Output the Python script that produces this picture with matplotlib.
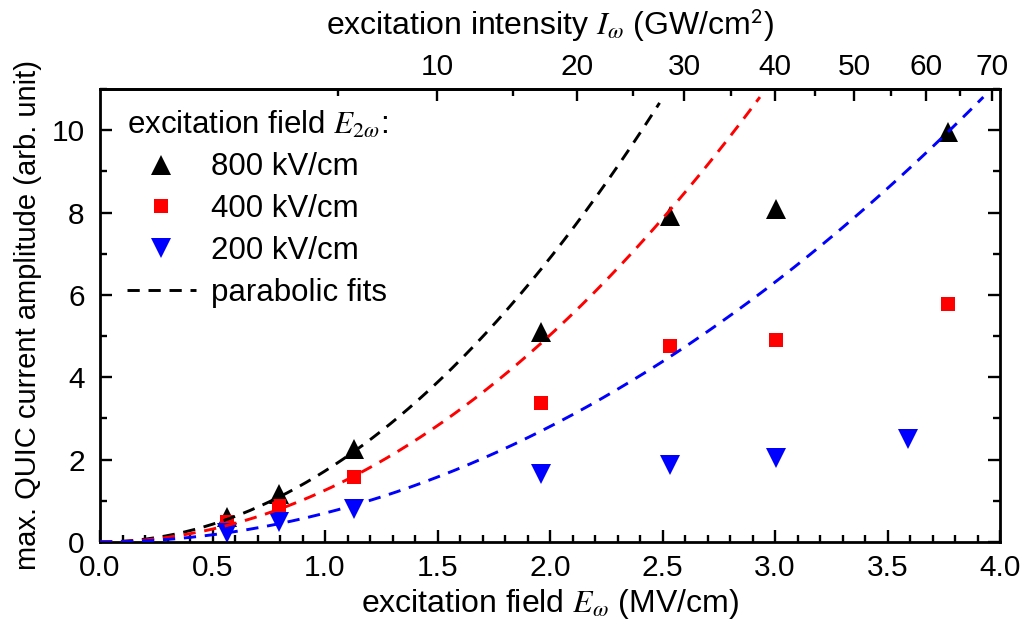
import numpy as np
import matplotlib
matplotlib.use("Agg")
import matplotlib.pyplot as plt
from matplotlib.lines import Line2D

plt.rcParams['font.family'] = ['Liberation Sans', 'DejaVu Sans']
plt.rcParams['mathtext.fontset'] = 'stix'

# ---- data ----
E_field = [0.565, 0.795, 1.129, 1.961, 2.535, 3.003, 3.767]
amp_800 = [0.61, 1.17, 2.27, 5.10, 7.92, 8.09, 9.95]
amp_400 = [0.49, 0.87, 1.58, 3.38, 4.77, 4.91, 5.77]
E_field_200 = [0.565, 0.795, 1.129, 1.961, 2.535, 3.003, 3.589]
amp_200 = [0.21, 0.49, 0.79, 1.64, 1.86, 2.04, 2.49]

series_labels = ['800 kV/cm', '400 kV/cm', '200 kV/cm']
series_colors = ['black', '#ff0000', '#0000ff']
series_markers = ['^', 's', 'v']

fit_coef = [1.724, 1.256, 0.701]      # parabolic fits a*E^2
fit_end = [2.487, 2.933, 3.926]       # end of plotted fit curves (MV/cm)

intensity_k = 4.45                    # I (GW/cm^2) = k * E^2 (MV/cm)
top_major = [10, 20, 30, 40, 50, 60, 70]
top_minor = [5, 15, 25, 35, 45, 55, 65]

# ---- figure ----
fig = plt.figure(figsize=(10.33, 6.24), dpi=100)
ax = fig.add_axes([100/1033, 1-542/624, 900/1033, 453/624])

xs = [E_field, E_field, E_field_200]
ys = [amp_800, amp_400, amp_200]
ms = [14, 10.3, 14]
for x, y, c, m, s in zip(xs, ys, series_colors, series_markers, ms):
    ax.plot(x, y, linestyle='none', marker=m, color=c, markersize=s,
            markeredgewidth=0, zorder=2)

for a, e_end, c in zip(fit_coef, fit_end, series_colors):
    ee = np.linspace(0, e_end, 300)
    ln, = ax.plot(ee, a*ee**2, color=c, lw=2.1, zorder=3)
    ln.set_dashes([4.2, 3.0])

ax.set_xlim(0, 4.0)
ax.set_ylim(0, 11)
ax.set_xticks(np.arange(0, 4.01, 0.5))
ax.set_xticks(np.arange(0, 4.01, 0.1), minor=True)
ax.set_yticks([0, 2, 4, 6, 8, 10])
ax.set_yticks(np.arange(0, 11.01, 1), minor=True)
ax.xaxis.set_major_formatter(matplotlib.ticker.FormatStrFormatter('%.1f'))

for sp in ax.spines.values():
    sp.set_linewidth(2.0)

ax.tick_params(which='both', direction='in', top=False, right=True,
               labelsize=21.5, width=1.7)
ax.tick_params(which='major', length=8.5)
ax.tick_params(axis='x', which='major', pad=9)
ax.tick_params(axis='y', which='major', pad=11)
ax.tick_params(which='minor', length=5)

ax.set_xlabel(r'excitation field $E_{\omega}$ (MV/cm)', fontsize=23, labelpad=3)
ax.set_ylabel('max. QUIC current amplitude (arb. unit)', fontsize=21.0, labelpad=7)

fwd = lambda e: intensity_k*np.asarray(e)**2
inv = lambda i: np.sqrt(np.maximum(np.asarray(i, dtype=float), 0)/intensity_k)
sec = ax.secondary_xaxis('top', functions=(fwd, inv))
sec.set_xticks(top_major)
sec.set_xticks(top_minor, minor=True)
sec.tick_params(which='both', direction='in', labelsize=21.5, width=1.7)
sec.tick_params(which='major', length=8.5, pad=6)
sec.tick_params(which='minor', length=5)
sec.spines['top'].set_linewidth(2.0)
sec.set_xlabel(r'excitation intensity $I_{\omega}$ (GW/cm$^{\mathsf{2}}$)', fontsize=23, labelpad=13)

handles = [Line2D([], [], linestyle='none', marker=m, color=c, markersize=s,
                  markeredgewidth=0)
           for c, m, s in zip(series_colors, series_markers, ms)]
fit_handle = Line2D([], [], color='black', lw=2.1)
fit_handle.set_dashes([4.2, 3.0])
handles.append(fit_handle)
labels = series_labels + ['parabolic fits']
leg = ax.legend(handles, labels, loc='upper left', bbox_to_anchor=(0.03, 0.955),
                frameon=False, fontsize=22.5, title=r'excitation field $E_{2\omega}$:',
                title_fontsize=22.5, alignment='left', borderpad=0, borderaxespad=0,
                handlelength=2.2, handletextpad=0.5, labelspacing=0.38)

fig.savefig('out.png', dpi=100)
